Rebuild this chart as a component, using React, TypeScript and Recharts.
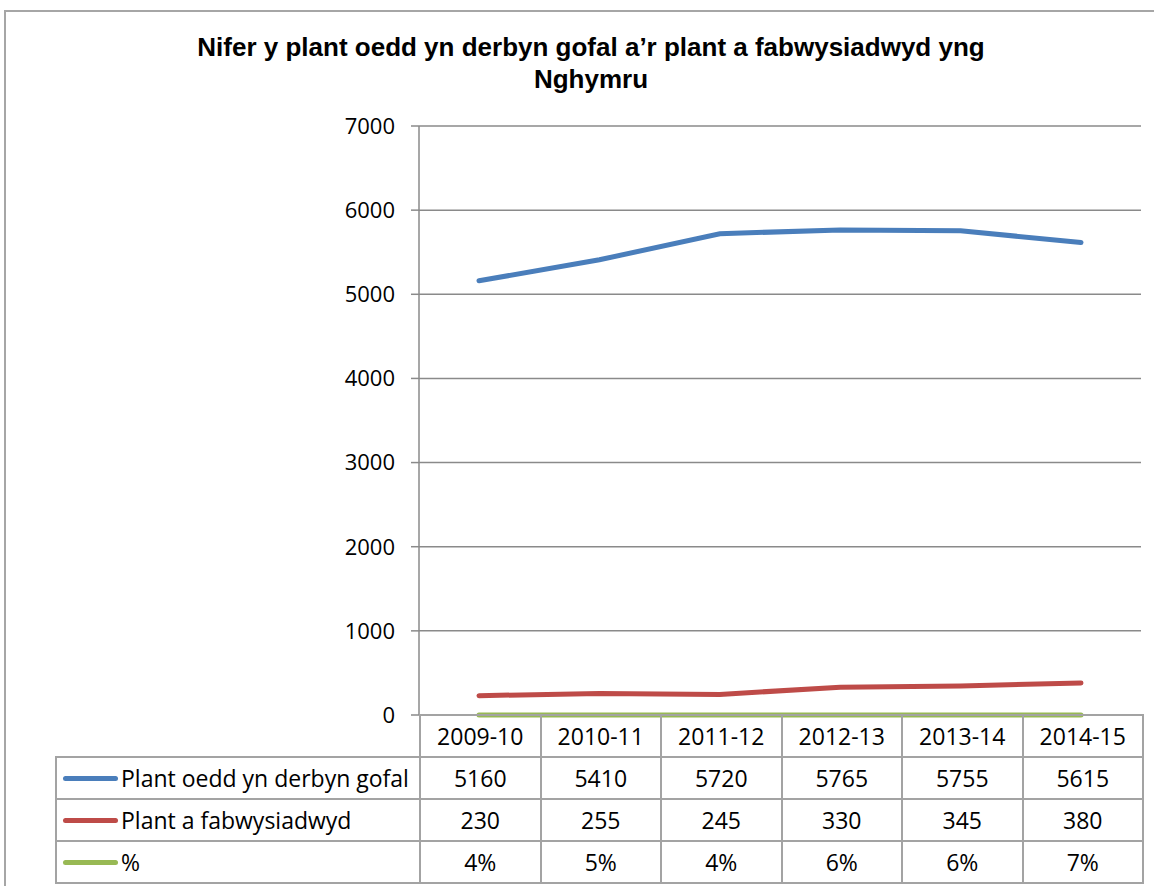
import React from 'react';
import {LineChart, Line, XAxis, YAxis, CartesianGrid} from 'recharts';

const years = ['2009-10', '2010-11', '2011-12', '2012-13', '2013-14', '2014-15'];
const inCare = [5160, 5410, 5720, 5765, 5755, 5615];
const adopted = [230, 255, 245, 330, 345, 380];
const percent = [4, 5, 4, 6, 6, 7];
const yTicks = [0, 1000, 2000, 3000, 4000, 5000, 6000, 7000];

const seriesNames = ['Plant oedd yn derbyn gofal', 'Plant a fabwysiadwyd', '%'];
const seriesColors = ['#4A7EBB', '#BE4B48', '#98B954'];

const data = years.map((year, i) => ({
    year,
    inCare: inCare[i],
    adopted: adopted[i],
    pct: percent[i] / 100,
}));

const tableRows = [
    inCare.map(String),
    adopted.map(String),
    percent.map((p) => p + '%'),
];

const font = '"Open Sans", sans-serif';
const border = '2px solid #a3a3a3';

const cell: React.CSSProperties = {
    border: border,
    textAlign: 'center',
    verticalAlign: 'middle',
    padding: 0,
    height: 40,
    fontFamily: font,
    fontSize: 23,
    color: '#000',
};

const App: React.FC = () => {
    return (
        <div style={{position: 'absolute', left: 0, top: 0, width: 1154, height: 886, overflow: 'hidden', background: '#fff'}}>
            <div style={{position: 'absolute', left: 4, top: 10, width: 1300, height: 1000, border: '2px solid #a6a6a6'}}/>
            <div style={{
                position: 'absolute', left: 0, top: 31, width: 1182, textAlign: 'center',
                fontFamily: '"Liberation Sans", Arial, sans-serif', fontWeight: 'bold', fontSize: 26, lineHeight: '32px',
            }}>
                Nifer y plant oedd yn derbyn gofal a’r plant a fabwysiadwyd yng<br/>Nghymru
            </div>
            <div style={{position: 'absolute', left: 0, top: 0}}>
                <LineChart
                    width={1154}
                    height={886}
                    data={data}
                    margin={{top: 126, right: 13, bottom: 171, left: 359}}
                >
                    <CartesianGrid vertical={false} stroke="#8a8a8a" strokeWidth={1.5}/>
                    <XAxis dataKey="year" hide padding={{left: 60, right: 60}}/>
                    <YAxis
                        width={60}
                        domain={[0, 7000]}
                        ticks={yTicks}
                        interval={0}
                        axisLine={{stroke: '#8a8a8a', strokeWidth: 1.5}}
                        tickLine={{stroke: '#8a8a8a', strokeWidth: 1.5}}
                        tickSize={8}
                        tickMargin={16}
                        tick={{fill: '#000', fontSize: 22, fontFamily: font}}
                    />
                    <Line dataKey="inCare" stroke={seriesColors[0]} strokeWidth={5} dot={false} strokeLinecap="round" isAnimationActive={false}/>
                    <Line dataKey="adopted" stroke={seriesColors[1]} strokeWidth={5} dot={false} strokeLinecap="round" isAnimationActive={false}/>
                    <Line dataKey="pct" stroke={seriesColors[2]} strokeWidth={5} dot={false} strokeLinecap="round" isAnimationActive={false}/>
                </LineChart>
            </div>
            <table style={{
                position: 'absolute', left: 55, top: 714, width: 1087, borderCollapse: 'collapse', tableLayout: 'fixed',
            }}>
                <colgroup>
                    <col style={{width: 364}}/>
                    {years.map((y) => <col key={y} style={{width: 120.5}}/>)}
                </colgroup>
                <tbody>
                    <tr>
                        <td style={{...cell, border: 'none', borderRight: border}}/>
                        {years.map((y) => <td key={y} style={cell}>{y}</td>)}
                    </tr>
                    {tableRows.map((row, r) => (
                        <tr key={r}>
                            <td style={{...cell, textAlign: 'left'}}>
                                <div style={{display: 'flex', alignItems: 'center'}}>
                                    <span style={{
                                        display: 'inline-block', width: 55, height: 5, borderRadius: 3,
                                        background: seriesColors[r], marginLeft: 6, marginRight: 3,
                                    }}/>
                                    <span>{seriesNames[r]}</span>
                                </div>
                            </td>
                            {row.map((v, i) => <td key={i} style={cell}>{v}</td>)}
                        </tr>
                    ))}
                </tbody>
            </table>
        </div>
    );
};

export default App;
